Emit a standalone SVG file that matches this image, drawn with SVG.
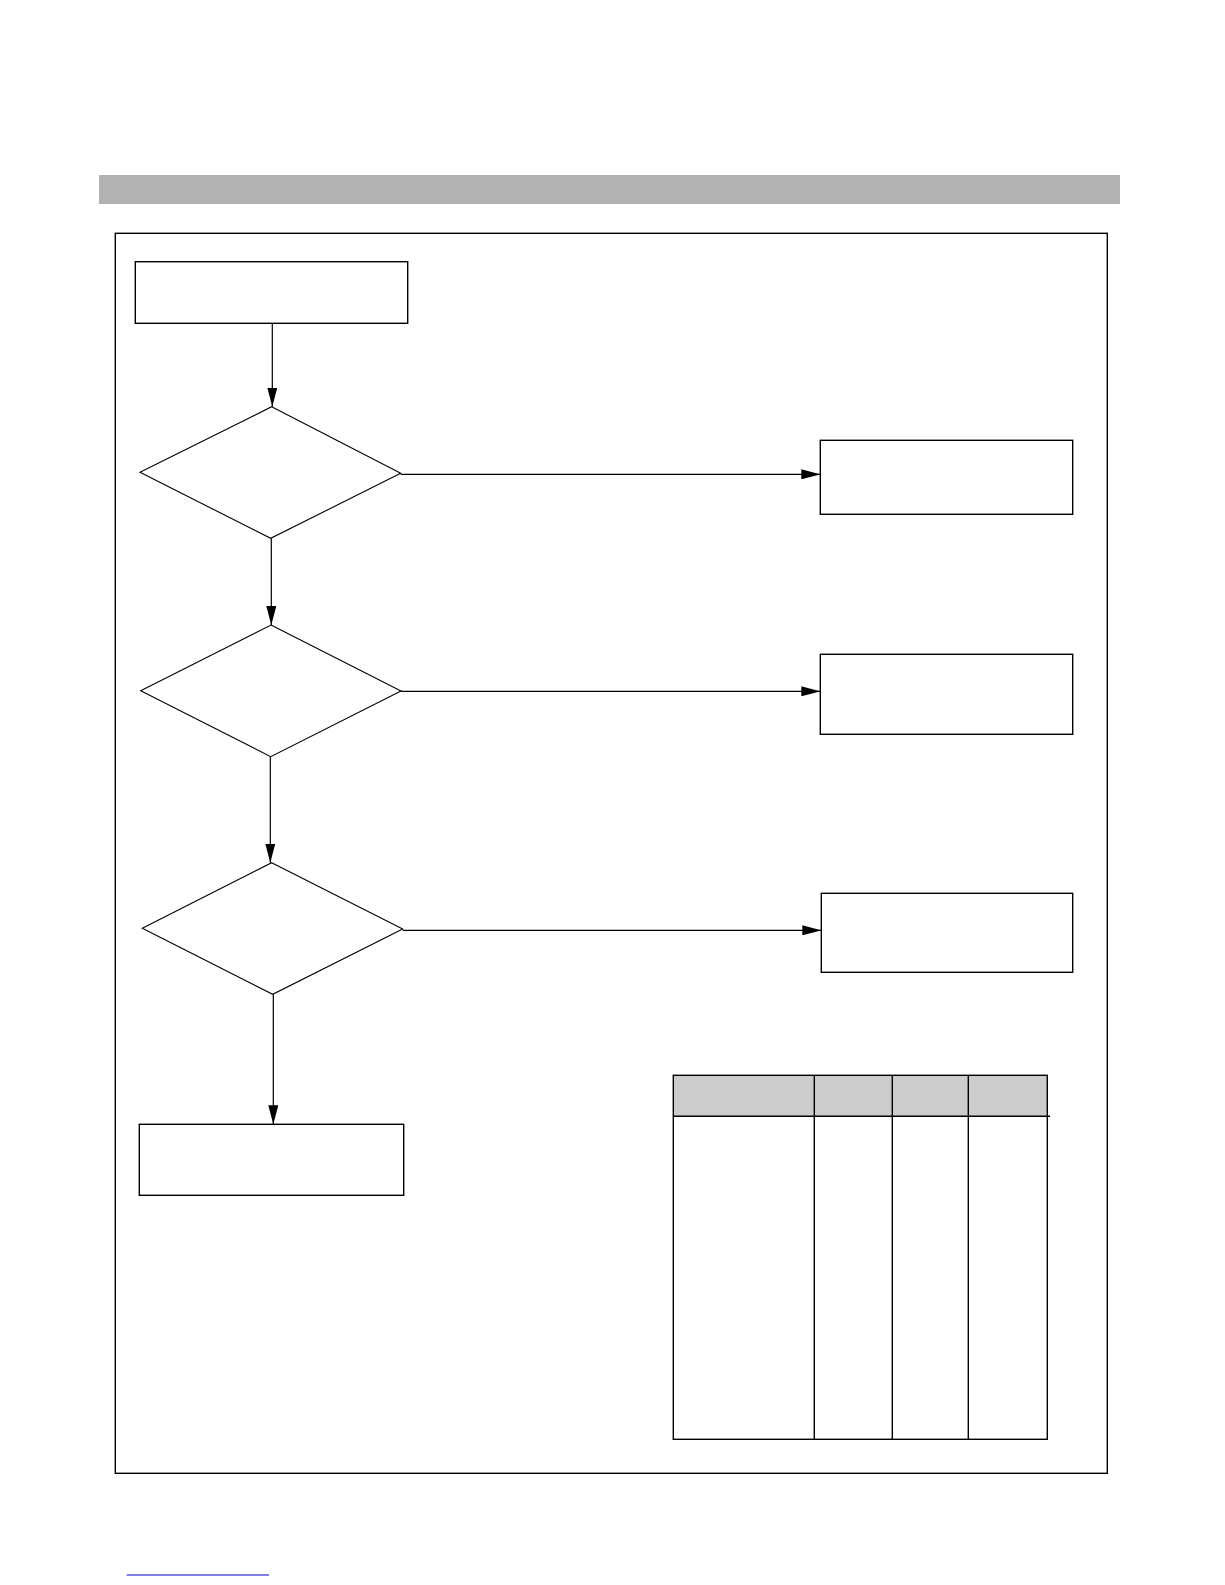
<svg xmlns="http://www.w3.org/2000/svg" width="1225" height="1585" viewBox="0 0 1225 1585">
<style>
.box{fill:#fff;stroke:#000;stroke-width:1.4}
.dia{fill:#fff;stroke:#000;stroke-width:1.1}
.ln{fill:none;stroke:#000;stroke-width:1.2}
.tl{fill:none;stroke:#000;stroke-width:1.4}
</style>
<defs>
<marker id="ah" markerWidth="19" markerHeight="10" refX="19" refY="5" orient="auto" markerUnits="userSpaceOnUse">
<path d="M0,0 L19,5 L0,10 Z" fill="#000"/>
</marker>
</defs>
<rect width="1225" height="1585" fill="#fff"/>
<rect id="titlebar" x="99" y="175" width="1021" height="29" fill="#b2b2b2"/>
<rect id="frame" x="115.3" y="233.3" width="992" height="1240" class="tl"/>
<g id="start"><rect x="135.3" y="261.7" width="272.4" height="61.6" class="box"/></g>
<g id="decision1"><polygon points="271.7,406.7 400.7,473.3 270.7,538.3 140,472.3" class="dia"/></g>
<g id="decision2"><polygon points="271,625 401,691 270.7,756.7 140.7,690.7" class="dia"/></g>
<g id="decision3"><polygon points="271.7,862.7 402.7,929 272.7,994.3 142.3,928.3" class="dia"/></g>
<g id="result1"><rect x="820.3" y="440.3" width="252.4" height="74" class="box"/></g>
<g id="result2"><rect x="820.3" y="654.3" width="252.4" height="80" class="box"/></g>
<g id="result3"><rect x="821.3" y="893.3" width="251.4" height="79" class="box"/></g>
<g id="end"><rect x="139.3" y="1124.3" width="264.4" height="71" class="box"/></g>
<g id="table">
<rect x="673.3" y="1075.3" width="374" height="41" fill="#cccccc"/>
<rect x="673.3" y="1075.3" width="374" height="364" class="tl"/>
<line x1="673.3" y1="1116.3" x2="1050" y2="1116.3" class="tl"/>
<line x1="814.3" y1="1075.3" x2="814.3" y2="1439.3" class="tl"/>
<line x1="892.3" y1="1075.3" x2="892.3" y2="1439.3" class="tl"/>
<line x1="968.3" y1="1075.3" x2="968.3" y2="1439.3" class="tl"/>
</g>
<g id="connectors">
<line x1="272.3" y1="323.3" x2="272.3" y2="406.7" class="ln" marker-end="url(#ah)"/>
<line x1="271.3" y1="538.3" x2="271.3" y2="625" class="ln" marker-end="url(#ah)"/>
<line x1="270.3" y1="756.7" x2="270.3" y2="862.7" class="ln" marker-end="url(#ah)"/>
<line x1="273.3" y1="994.3" x2="273.3" y2="1124.3" class="ln" marker-end="url(#ah)"/>
<line x1="400.7" y1="474.3" x2="820.3" y2="474.3" class="ln" marker-end="url(#ah)"/>
<line x1="401" y1="691.3" x2="820.3" y2="691.3" class="ln" marker-end="url(#ah)"/>
<line x1="402.7" y1="930.3" x2="821.3" y2="930.3" class="ln" marker-end="url(#ah)"/>
</g>
<line id="footer" x1="126.7" y1="1575" x2="269" y2="1575" stroke="#0000dd" stroke-width="1.2"/>
</svg>
